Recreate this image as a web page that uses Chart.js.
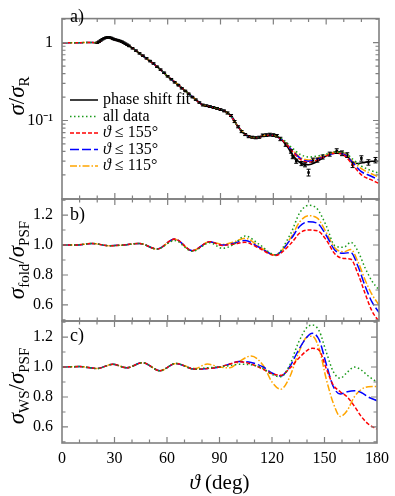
<!DOCTYPE html>
<html>
<head>
<meta charset="utf-8">
<script src="https://cdn.jsdelivr.net/npm/chart.js@4.4.1/dist/chart.umd.min.js"></script>
<style>
  body { margin: 0; background: #fff; }
  #wrap { position: relative; width: 395px; height: 496px; }
  canvas { position: absolute; left: 0; top: 0; }
</style>
</head>
<body>
<div id="wrap">
  <canvas id="pa" width="395" height="496"></canvas>
  <canvas id="pb" width="395" height="496"></canvas>
  <canvas id="pc" width="395" height="496"></canvas>
</div>
<script>
// ---- panel a: cross section / Rutherford ----
var fitAngles = [20,22,24,26,28,30,33,36,40,45,50,55,60,65,70,75,80,85,90,94,97,100,103,107,111,115,119,122,125,128,131,134,137,140,144,148,152,156,159,162,165,168,172,176,180];
var fitValues = [1.0,1.06,1.14,1.17,1.15,1.10,1.05,0.97,0.85,0.70,0.58,0.47,0.37,0.30,0.24,0.193,0.158,0.149,0.139,0.126,0.108,0.083,0.069,0.062,0.060,0.064,0.0655,0.063,0.056,0.046,0.036,0.030,0.0275,0.027,0.029,0.033,0.037,0.040,0.039,0.035,0.029,0.028,0.029,0.030,0.030];

var dataAngles = [20,21,22,23,24,25,26,27,28,29,30,31,32,33,34,35,36,37,38,40,42,44,46,48,50,52,54,56,58,60,62,64,66,68,70,72,74,76,78,80,82,84,86,88,90,92,94,96,98,100,102,104,106,108,110,112,114,116,118,120,122,124,127,130,131,133,136,138,140,142.5,145,148,152,156,159,162,165,170,174,178];
var dataValues = [1.0,1.03,1.07,1.11,1.14,1.16,1.17,1.165,1.15,1.12,1.10,1.085,1.07,1.05,1.03,1.0,0.97,0.94,0.91,0.85,0.79,0.73,0.68,0.63,0.58,0.54,0.49,0.45,0.41,0.37,0.34,0.31,0.285,0.26,0.24,0.22,0.20,0.185,0.17,0.158,0.155,0.151,0.147,0.143,0.138,0.133,0.125,0.116,0.097,0.083,0.072,0.066,0.062,0.061,0.060,0.061,0.0645,0.065,0.066,0.065,0.0635,0.058,0.049,0.040,0.034,0.030,0.028,0.027,0.0215,0.031,0.031,0.034,0.037,0.0405,0.038,0.036,0.027,0.0326,0.029,0.031];
var dataErrors = [0.02,0.02,0.02,0.02,0.02,0.02,0.02,0.02,0.02,0.02,0.02,0.02,0.02,0.02,0.02,0.02,0.02,0.02,0.02,0.02,0.02,0.02,0.02,0.02,0.02,0.02,0.02,0.02,0.02,0.02,0.02,0.02,0.02,0.02,0.02,0.02,0.02,0.02,0.02,0.025,0.025,0.025,0.025,0.025,0.025,0.025,0.03,0.03,0.03,0.03,0.03,0.03,0.03,0.03,0.03,0.03,0.04,0.04,0.04,0.04,0.04,0.05,0.05,0.05,0.05,0.06,0.06,0.06,0.10,0.06,0.06,0.06,0.06,0.07,0.07,0.07,0.08,0.08,0.08,0.08];

var crossAngles = [0,5,10,15,20,25,30,35,40,45,50,55,60,65,70,75,80,85,90,95,100,105,110,115,120,125,130,135,140,145,150,155,160,165,170,175,180];
var crossAll  = [1.0,1.0,1.0,1.005,1.0,1.16,1.10,0.99,0.85,0.70,0.58,0.47,0.37,0.30,0.24,0.193,0.158,0.149,0.139,0.12,0.083,0.064,0.060,0.064,0.064,0.058,0.046,0.037,0.034,0.035,0.037,0.039,0.039,0.032,0.026,0.023,0.021];
var cross155  = [1.0,1.0,1.0,1.005,1.0,1.16,1.10,0.99,0.85,0.70,0.58,0.47,0.37,0.30,0.24,0.193,0.158,0.149,0.139,0.12,0.083,0.064,0.060,0.064,0.064,0.056,0.042,0.032,0.029,0.031,0.035,0.038,0.036,0.027,0.020,0.0175,0.0155];
var cross135  = [1.0,1.0,1.0,1.005,1.0,1.16,1.10,0.99,0.85,0.70,0.58,0.47,0.37,0.30,0.24,0.193,0.158,0.149,0.139,0.12,0.083,0.064,0.060,0.064,0.064,0.056,0.043,0.033,0.030,0.032,0.035,0.038,0.037,0.029,0.022,0.0195,0.0172];
var cross115  = [1.0,1.0,1.0,1.005,1.0,1.16,1.10,0.99,0.85,0.70,0.58,0.47,0.37,0.30,0.24,0.193,0.158,0.149,0.139,0.12,0.083,0.064,0.060,0.064,0.064,0.057,0.044,0.034,0.031,0.033,0.036,0.039,0.038,0.030,0.024,0.021,0.0187];

// ---- panel b: sigma_fold / sigma_PSF ----
var foldAngles = [0,8,17,27,35,44,54,64,74,84,91,97,104,112,121,130,135,140,145,150,155,160,164,168,172,176,180];
var foldAll = [1.0,1.0,1.01,0.995,1.0,1.01,0.973,1.03,0.958,1.015,0.978,1.0,1.06,1.005,0.935,1.08,1.215,1.265,1.24,1.13,0.995,0.985,1.018,0.96,0.85,0.76,0.70];
var fold155 = [1.0,1.0,1.01,0.995,1.0,1.01,0.973,1.04,0.962,1.022,0.997,1.005,1.018,0.978,0.93,1.01,1.08,1.10,1.095,1.035,0.94,0.91,0.905,0.81,0.68,0.56,0.49];
var fold135 = [1.0,1.0,1.01,0.995,1.0,1.01,0.973,1.04,0.962,1.022,1.0,1.01,1.03,0.985,0.933,1.04,1.125,1.155,1.145,1.065,0.965,0.945,0.95,0.86,0.73,0.62,0.55];
var fold115 = [1.0,1.0,1.01,0.995,1.0,1.01,0.973,1.038,0.962,1.022,1.004,1.018,1.045,0.99,0.933,1.05,1.155,1.195,1.18,1.085,0.98,0.955,0.97,0.89,0.77,0.67,0.60];

// ---- panel c: sigma_WS / sigma_PSF ----
var wsAngles = [0,10,20,29,37,46,56,65,76,83,90,96,101,108,115,120,125,130,135,140,143,147,151,155,159,163,167,171,175,180];
var wsAll = [1.0,1.003,0.99,1.018,0.995,1.029,0.975,1.024,0.985,0.995,1.0,1.01,1.018,1.015,0.99,0.95,0.935,1.01,1.16,1.265,1.28,1.24,1.10,0.97,0.925,0.965,1.0,0.98,0.94,0.90];
var ws155 = [1.0,1.003,0.99,1.018,0.995,1.029,0.975,1.024,0.985,0.99,1.0,1.02,1.036,1.02,0.985,0.955,0.945,0.99,1.055,1.11,1.125,1.11,0.99,0.88,0.835,0.80,0.74,0.67,0.62,0.585];
var ws135 = [1.0,1.003,0.99,1.018,0.995,1.029,0.975,1.024,0.985,0.99,1.0,1.02,1.036,1.03,1.0,0.96,0.94,1.0,1.11,1.20,1.225,1.18,1.02,0.87,0.82,0.835,0.842,0.83,0.80,0.775];
var ws115 = [1.0,1.003,0.99,1.018,0.995,1.029,0.975,1.024,0.99,1.02,1.0,0.995,1.035,1.073,1.01,0.90,0.852,0.93,1.09,1.20,1.205,1.12,0.92,0.76,0.67,0.71,0.80,0.85,0.868,0.87];

var xTicks = [0,30,60,90,120,150,180];

var FONT = "'Liberation Serif', 'Times New Roman', serif";
var FRAME = "#808080";
var STY = {
  fit:  { color: "#000000", dash: [] },
  all:  { color: "#1a9a1a", dash: [1.5, 2.5] },
  s155: { color: "#ff0000", dash: [4, 2] },
  s135: { color: "#0000ff", dash: [9, 3] },
  s115: { color: "#ffa500", dash: [7, 2, 1.5, 2] }
};

function pts(xs, ys) {
  return xs.map(function (x, i) { return { x: x, y: ys[i] }; });
}

function line(xs, ys, key, width) {
  return {
    data: pts(xs, ys),
    borderColor: STY[key].color,
    borderDash: STY[key].dash,
    borderWidth: width || 1.5,
    pointRadius: 0,
    cubicInterpolationMode: "monotone",
    fill: false
  };
}

// text with mixed fonts (italic sigma, subscripts)
function richWidth(ctx, segs) {
  var w = 0;
  segs.forEach(function (s) { ctx.font = s.f; w += ctx.measureText(s.t).width; });
  return w;
}
function drawRich(ctx, segs, x, y) {
  segs.forEach(function (s) {
    ctx.font = s.f;
    ctx.fillText(s.t, x, y + (s.dy || 0));
    x += ctx.measureText(s.t).width;
  });
}

var it = function (n) { return "italic " + n + "px " + FONT; };
var rm = function (n) { return n + "px " + FONT; };

var framePlugin = {
  id: "frame",
  afterDatasetsDraw: function (chart) {
    var o = chart.options.plugins.frame;
    var ctx = chart.ctx, a = chart.chartArea;
    var xs = chart.scales.x, ys = chart.scales.y;
    ctx.save();

    // error bars for the data points
    if (o.errors) {
      var meta = chart.getDatasetMeta(o.errors.index);
      ctx.strokeStyle = "#000";
      ctx.lineWidth = 1;
      meta.data.forEach(function (p, i) {
        var v = dataValues[i], e = dataErrors[i];
        var y1 = ys.getPixelForValue(v * (1 + e)), y2 = ys.getPixelForValue(v * (1 - e));
        ctx.beginPath();
        ctx.moveTo(p.x, y1); ctx.lineTo(p.x, y2);
        ctx.moveTo(p.x - 2, y1); ctx.lineTo(p.x + 2, y1);
        ctx.moveTo(p.x - 2, y2); ctx.lineTo(p.x + 2, y2);
        ctx.stroke();
      });
    }

    // frame and inward ticks
    ctx.strokeStyle = FRAME;
    ctx.lineWidth = 1.6;
    ctx.setLineDash([]);
    ctx.strokeRect(a.left, a.top, a.right - a.left, a.bottom - a.top);
    ctx.lineWidth = 1.2;
    ctx.beginPath();
    for (var d = 10; d < 180; d += 10) {
      var px = xs.getPixelForValue(d), len = d % 30 === 0 ? 6 : 3.5;
      ctx.moveTo(px, a.bottom); ctx.lineTo(px, a.bottom - len);
      ctx.moveTo(px, a.top); ctx.lineTo(px, a.top + len);
    }
    o.yMajor.forEach(function (v) {
      var py = ys.getPixelForValue(v);
      ctx.moveTo(a.left, py); ctx.lineTo(a.left + 6, py);
      ctx.moveTo(a.right, py); ctx.lineTo(a.right - 6, py);
    });
    o.yMinor.forEach(function (v) {
      var py = ys.getPixelForValue(v);
      ctx.moveTo(a.left, py); ctx.lineTo(a.left + 3.5, py);
      ctx.moveTo(a.right, py); ctx.lineTo(a.right - 3.5, py);
    });
    ctx.stroke();

    ctx.fillStyle = "#000";
    ctx.textBaseline = "alphabetic";
    ctx.textAlign = "left";

    // panel label
    ctx.font = rm(18);
    ctx.fillText(o.label, a.left + 8, o.labelY);

    // rotated y title
    ctx.save();
    ctx.translate(24, o.titleY);
    ctx.rotate(-Math.PI / 2);
    drawRich(ctx, o.title, -richWidth(ctx, o.title) / 2, 0);
    ctx.restore();

    // legend inside panel a
    if (o.legend) {
      o.legend.forEach(function (row, i) {
        var ry = 100 + i * 16.5;
        ctx.strokeStyle = STY[row.key].color;
        ctx.setLineDash(STY[row.key].dash);
        ctx.lineWidth = 1.5;
        ctx.beginPath();
        ctx.moveTo(70, ry); ctx.lineTo(98, ry);
        ctx.stroke();
        ctx.setLineDash([]);
        ctx.textBaseline = "middle";
        drawRich(ctx, row.segs, 103, ry);
      });
      ctx.textBaseline = "alphabetic";
    }

    // x title under panel c
    if (o.xTitle) {
      var segs = [{ t: "\u03d1", f: it(21) }, { t: " (deg)", f: rm(21) }];
      drawRich(ctx, segs, (a.left + a.right) / 2 - richWidth(ctx, segs) / 2, 489);
    }
    ctx.restore();
  }
};

function fixWidth(scale) { scale.width = 62; }

function baseOptions(pad, y, frame, showX) {
  return {
    responsive: false,
    animation: false,
    devicePixelRatio: 1,
    events: [],
    layout: { padding: pad },
    plugins: { legend: { display: false }, tooltip: { enabled: false }, frame: frame },
    scales: {
      x: {
        type: "linear", min: 0, max: 180,
        display: showX,
        grid: { display: false, drawTicks: false },
        border: { display: false },
        afterBuildTicks: function (s) { s.ticks = xTicks.map(function (v) { return { value: v }; }); },
        afterFit: function (s) { s.height = showX ? 53 : 0; },
        ticks: { font: { family: FONT, size: 16 }, color: "#000", padding: 6, maxRotation: 0 }
      },
      y: y
    }
  };
}

var sub = function (t) { return { t: t, f: rm(15), dy: 5 }; };
var sig = { t: "\u03c3", f: it(23) };
var slash = { t: "/", f: rm(23) };

// panel a
new Chart(document.getElementById("pa"), {
  type: "line",
  data: {
    datasets: [
      line(crossAngles, crossAll, "all"),
      line(crossAngles, cross155, "s155"),
      line(crossAngles, cross135, "s135"),
      line(crossAngles, cross115, "s115"),
      line(fitAngles, fitValues, "fit", 1.6),
      {
        data: pts(dataAngles, dataValues),
        showLine: false,
        pointStyle: "rect",
        pointRadius: 1.8,
        pointBackgroundColor: "#000",
        pointBorderColor: "#000",
        pointBorderWidth: 0
      }
    ]
  },
  options: baseOptions({ left: 0, right: 16, top: 4, bottom: 297 }, {
    type: "logarithmic", min: 0.0098, max: 2.04,
    grid: { display: false, drawTicks: false },
    border: { display: false },
    afterFit: fixWidth,
    afterBuildTicks: function (s) { s.ticks = [{ value: 0.1 }, { value: 1 }]; },
    ticks: {
      font: { family: FONT, size: 16 }, color: "#000", padding: 9,
      callback: function (v) { return v === 1 ? "1" : "10\u207b\u00b9"; }
    }
  }, {
    label: "a)", labelY: 22, titleY: 96,
    title: [sig, slash, sig, sub("R")],
    yMajor: [0.1, 1],
    yMinor: [0.02,0.03,0.04,0.05,0.06,0.07,0.08,0.09,0.2,0.3,0.4,0.5,0.6,0.7,0.8,0.9,2],
    errors: { index: 5 },
    legend: [
      { key: "fit",  segs: [{ t: "phase shift fit", f: rm(16) }] },
      { key: "all",  segs: [{ t: "all data", f: rm(16) }] },
      { key: "s155", segs: [{ t: "\u03d1", f: it(16) }, { t: " \u2264 155\u00b0", f: rm(16) }] },
      { key: "s135", segs: [{ t: "\u03d1", f: it(16) }, { t: " \u2264 135\u00b0", f: rm(16) }] },
      { key: "s115", segs: [{ t: "\u03d1", f: it(16) }, { t: " \u2264 115\u00b0", f: rm(16) }] }
    ]
  }, false),
  plugins: [framePlugin]
});

function ratioY() {
  return {
    type: "linear", min: 0.493, max: 1.307,
    grid: { display: false, drawTicks: false },
    border: { display: false },
    afterFit: fixWidth,
    afterBuildTicks: function (s) { s.ticks = [0.6, 0.8, 1.0, 1.2].map(function (v) { return { value: v }; }); },
    ticks: {
      font: { family: FONT, size: 16 }, color: "#000", padding: 9,
      callback: function (v) { return v.toFixed(1); }
    }
  };
}

// panel b
new Chart(document.getElementById("pb"), {
  type: "line",
  data: {
    datasets: [
      line(foldAngles, foldAll, "all"),
      line(foldAngles, fold155, "s155"),
      line(foldAngles, fold135, "s135"),
      line(foldAngles, fold115, "s115")
    ]
  },
  options: baseOptions({ left: 0, right: 16, top: 199, bottom: 175 }, ratioY(), {
    label: "b)", labelY: 220, titleY: 260,
    title: [sig, sub("fold"), slash, sig, sub("PSF")],
    yMajor: [0.6, 0.8, 1.0, 1.2],
    yMinor: [0.5, 0.7, 0.9, 1.1, 1.3]
  }, false),
  plugins: [framePlugin]
});

// panel c
new Chart(document.getElementById("pc"), {
  type: "line",
  data: {
    datasets: [
      line(wsAngles, wsAll, "all"),
      line(wsAngles, ws155, "s155"),
      line(wsAngles, ws135, "s135"),
      line(wsAngles, ws115, "s115")
    ]
  },
  options: baseOptions({ left: 0, right: 16, top: 321, bottom: 0 }, ratioY(), {
    label: "c)", labelY: 341, titleY: 386,
    title: [sig, sub("WS"), slash, sig, sub("PSF")],
    yMajor: [0.6, 0.8, 1.0, 1.2],
    yMinor: [0.5, 0.7, 0.9, 1.1, 1.3],
    xTitle: true
  }, true),
  plugins: [framePlugin]
});
</script>
</body>
</html>
